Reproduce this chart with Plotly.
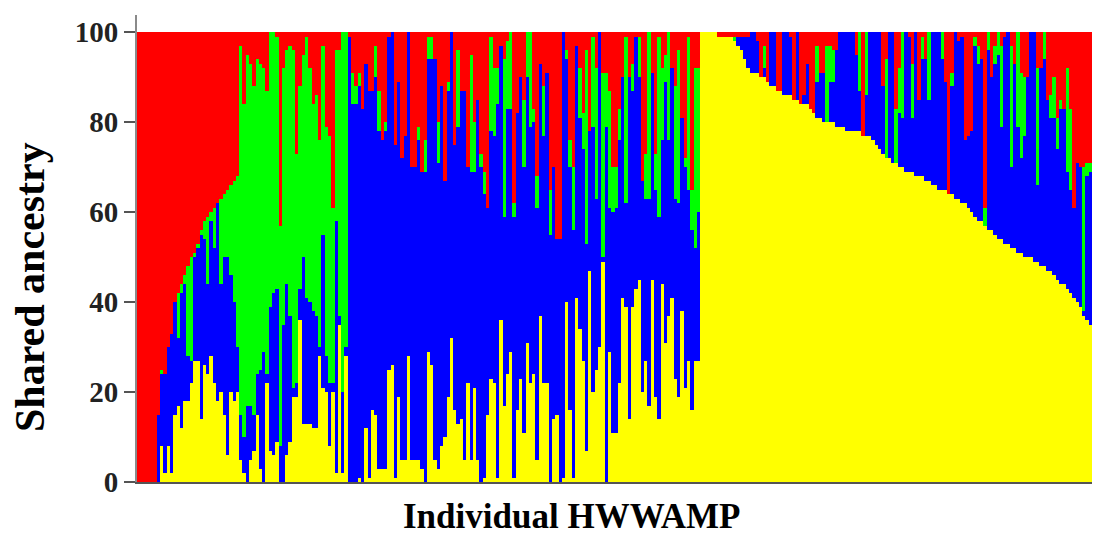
import plotly.graph_objects as go

# Ancestry proportions (%) per individual
yellow = [
    0, 0, 0, 0, 0, 0, 0, 8, 2, 8, 2, 15, 17, 12, 18, 18, 22, 27, 27, 14, 26,
    24, 28, 22, 18, 20, 15, 6, 20, 18, 20, 5, 2, 0, 5, 7, 15, 3, 0, 22, 7,
    6, 9, 0, 0, 6, 9, 19, 19, 36, 13, 13, 13, 12, 12, 28, 21, 20, 8, 20, 2,
    35, 2, 28, 0, 0, 0, 1, 0, 12, 1, 16, 15, 3, 3, 3, 25, 26, 1, 19, 5,
    5, 28, 5, 5, 5, 3, 0, 29, 26, 5, 3, 8, 10, 19, 32, 16, 13, 14, 5, 22,
    5, 21, 5, 0, 1, 15, 23, 22, 1, 36, 17, 24, 29, 1, 16, 23, 11, 31, 22, 24,
    5, 37, 22, 22, 0, 14, 15, 0, 1, 40, 16, 1, 41, 34, 27, 7, 47, 20, 25, 30,
    49, 0, 29, 11, 11, 22, 41, 39, 14, 39, 43, 45, 20, 27, 17, 45, 19, 14, 44, 31,
    37, 41, 23, 19, 38, 21, 27, 16, 27, 27, 100, 100, 100, 100, 100, 99, 99, 99, 99, 99,
    98, 97, 96, 94, 92, 91, 91, 91, 90, 90, 89, 88, 88, 87, 87, 86, 86, 86, 85, 85,
    84, 84, 84, 83, 82, 81, 81, 80, 80, 80, 80, 79, 79, 79, 78, 78, 78, 78, 78, 77,
    77, 77, 76, 75, 74, 73, 72, 72, 71, 71, 70, 70, 69, 69, 69, 68, 68, 68, 67, 67,
    66, 66, 65, 65, 65, 64, 64, 63, 63, 62, 62, 61, 60, 59, 58, 58, 57, 56, 56, 55,
    54, 54, 53, 53, 52, 52, 51, 51, 50, 50, 50, 49, 49, 48, 48, 47, 47, 46, 45, 44,
    44, 43, 42, 41, 40, 39, 37, 36, 35,
]
blue = [
    0, 0, 0, 0, 0, 0, 15, 16, 22, 22, 31, 25, 15, 30, 26, 10, 5, 23, 25, 41, 28,
    20, 30, 30, 44, 24, 35, 44, 26, 22, 10, 10, 8, 17, 12, 8, 9, 22, 29, 2, 32,
    36, 34, 8, 35, 38, 28, 2, 3, 7, 37, 28, 27, 26, 25, 2, 34, 8, 14, 2, 56,
    2, 18, 2, 99, 84, 84, 87, 83, 81, 86, 71, 75, 75, 73, 75, 74, 74, 74, 70, 67,
    72, 72, 65, 65, 71, 66, 69, 65, 68, 89, 68, 80, 57, 68, 68, 59, 66, 73, 82, 48,
    64, 48, 80, 70, 63, 46, 55, 55, 83, 61, 42, 59, 54, 58, 66, 67, 59, 59, 57, 56,
    56, 56, 55, 69, 55, 56, 39, 54, 99, 54, 54, 55, 56, 47, 47, 46, 31, 59, 38, 70,
    1, 79, 32, 49, 50, 54, 49, 23, 76, 48, 56, 45, 47, 36, 46, 46, 46, 45, 32, 58,
    39, 51, 40, 43, 43, 49, 38, 40, 25, 33, 0, 0, 0, 0, 0, 0, 0, 0, 0, 0,
    0, 2, 3, 5, 7, 9, 9, 7, 0, 2, 0, 12, 12, 0, 0, 14, 14, 13, 0, 15,
    0, 2, 9, 0, 0, 8, 10, 11, 0, 9, 9, 17, 21, 21, 22, 22, 22, 17, 9, 0,
    9, 23, 24, 25, 26, 15, 0, 28, 29, 0, 12, 11, 31, 30, 12, 32, 17, 26, 27, 18,
    34, 34, 35, 29, 24, 0, 24, 37, 35, 37, 14, 16, 18, 38, 35, 36, 0, 40, 34, 38,
    41, 25, 46, 47, 18, 41, 28, 21, 27, 40, 50, 51, 17, 44, 46, 38, 34, 35, 29, 39,
    39, 26, 23, 20, 31, 31, 1, 32, 34,
]
green = [
    0, 0, 0, 0, 0, 0, 0, 1, 0, 0, 0, 0, 10, 2, 2, 20, 23, 1, 1, 1, 4,
    15, 2, 9, 0, 19, 14, 15, 20, 27, 38, 82, 74, 78, 76, 73, 70, 68, 63, 63, 61,
    58, 56, 49, 57, 52, 60, 75, 51, 45, 45, 58, 52, 46, 49, 46, 42, 51, 55, 39, 38,
    59, 80, 70, 0, 7, 4, 3, 0, 0, 0, 0, 7, 9, 0, 2, 0, 0, 0, 0, 0,
    0, 0, 0, 0, 3, 0, 7, 5, 5, 0, 9, 0, 0, 2, 0, 0, 17, 0, 0, 0,
    26, 11, 0, 3, 5, 0, 21, 15, 8, 0, 35, 15, 17, 3, 0, 0, 15, 10, 21, 3,
    7, 0, 11, 0, 10, 0, 0, 0, 0, 2, 6, 14, 0, 11, 8, 43, 0, 20, 29, 0,
    41, 12, 26, 10, 9, 7, 0, 37, 0, 6, 0, 9, 0, 10, 37, 0, 8, 40, 16, 6,
    24, 0, 25, 34, 0, 2, 34, 9, 40, 32, 0, 0, 0, 0, 0, 0, 0, 0, 0, 0,
    1, 0, 0, 0, 0, 0, 0, 0, 0, 5, 0, 0, 0, 0, 0, 0, 0, 0, 0, 0,
    0, 0, 0, 0, 0, 8, 0, 0, 17, 8, 7, 0, 0, 0, 0, 0, 0, 0, 13, 0,
    14, 0, 0, 0, 0, 0, 22, 0, 0, 12, 10, 19, 0, 0, 12, 0, 0, 5, 0, 15,
    0, 0, 0, 6, 0, 0, 3, 0, 0, 0, 0, 0, 0, 2, 4, 0, 4, 4, 0, 4,
    5, 18, 0, 0, 27, 0, 21, 19, 13, 0, 0, 0, 26, 0, 6, 0, 5, 9, 7, 2,
    0, 23, 18, 0, 0, 0, 32, 3, 2,
]
red = [
    100, 100, 100, 100, 100, 100, 85, 75, 76, 70, 67, 60, 58, 56, 54, 52, 50, 49, 47, 44, 42,
    41, 40, 39, 38, 37, 36, 35, 34, 33, 32, 3, 16, 5, 7, 12, 6, 7, 8, 13, 0,
    0, 1, 43, 8, 4, 3, 4, 27, 12, 5, 1, 8, 16, 14, 24, 3, 21, 23, 39, 4,
    4, 0, 0, 1, 9, 12, 9, 17, 7, 13, 13, 3, 13, 24, 20, 1, 0, 25, 11, 28,
    23, 0, 30, 30, 21, 31, 24, 1, 1, 6, 20, 12, 33, 11, 0, 25, 4, 13, 13, 30,
    5, 20, 15, 27, 31, 39, 1, 8, 8, 3, 6, 2, 0, 38, 18, 10, 15, 0, 0, 17,
    32, 7, 12, 9, 35, 30, 46, 46, 0, 4, 24, 30, 3, 8, 18, 4, 22, 1, 8, 0,
    9, 9, 13, 30, 30, 17, 10, 1, 10, 7, 1, 1, 33, 27, 0, 9, 27, 1, 8, 5,
    0, 8, 12, 4, 19, 28, 1, 35, 8, 8, 0, 0, 0, 0, 0, 1, 1, 1, 1, 1,
    1, 1, 1, 1, 1, 0, 0, 2, 10, 3, 11, 0, 0, 13, 13, 0, 0, 1, 15, 0,
    16, 14, 7, 17, 18, 3, 9, 9, 3, 3, 4, 4, 0, 0, 0, 0, 0, 5, 0, 23,
    0, 0, 0, 0, 0, 12, 6, 0, 0, 17, 8, 0, 0, 1, 7, 0, 15, 1, 6, 0,
    0, 0, 0, 0, 11, 36, 9, 0, 2, 1, 24, 23, 22, 1, 3, 6, 39, 0, 10, 3,
    0, 3, 1, 0, 3, 7, 0, 9, 10, 10, 0, 0, 8, 8, 0, 15, 14, 10, 19, 15,
    17, 8, 17, 39, 29, 30, 30, 29, 29,
]
individuals = list(range(1, len(yellow) + 1))
y_ticks = [0, 20, 40, 60, 80, 100]

assert len(yellow) == len(blue) == len(green) == len(red), (
    len(yellow), len(blue), len(green), len(red))

fig = go.Figure()
for name, vals, color in [("Cluster 1", yellow, "#FFFF00"),
                          ("Cluster 2", blue, "#0000FF"),
                          ("Cluster 3", green, "#00FF00"),
                          ("Cluster 4", red, "#FF0000")]:
    fig.add_bar(x=individuals, y=vals, name=name,
                marker=dict(color=color, line=dict(width=0)))

serif = "Liberation Serif, Times New Roman, serif"
fig.update_layout(
    barmode="stack", bargap=0,
    width=1094, height=537,
    margin=dict(l=137, r=2, t=15, b=55),
    showlegend=False,
    plot_bgcolor="white", paper_bgcolor="white",
    xaxis=dict(range=[0.5, len(yellow) + 0.5], showticklabels=False, ticks="",
               showgrid=False, zeroline=False, showline=True,
               linecolor="#555555", linewidth=2),
    yaxis=dict(range=[0, 103.8], tickvals=y_ticks, ticks="outside", ticklen=11,
               tickwidth=2, tickcolor="#555555", showgrid=False, zeroline=False,
               showline=True, linecolor="#8a8a8a", linewidth=2,
               tickfont=dict(family=serif, size=29, color="#222222", weight="bold")),
    annotations=[
        dict(text="Shared ancestry", xref="paper", yref="paper",
             x=-0.112, y=0.4176, xanchor="center", yanchor="middle",
             textangle=-90, showarrow=False,
             font=dict(family=serif, size=42, color="black", weight="bold")),
        dict(text="Individual HWWAMP", xref="paper", yref="paper",
             x=0.4545, y=-0.073, xanchor="center", yanchor="middle",
             showarrow=False,
             font=dict(family=serif, size=35, color="black", weight="bold")),
    ],
)

fig.write_html("out.html")
